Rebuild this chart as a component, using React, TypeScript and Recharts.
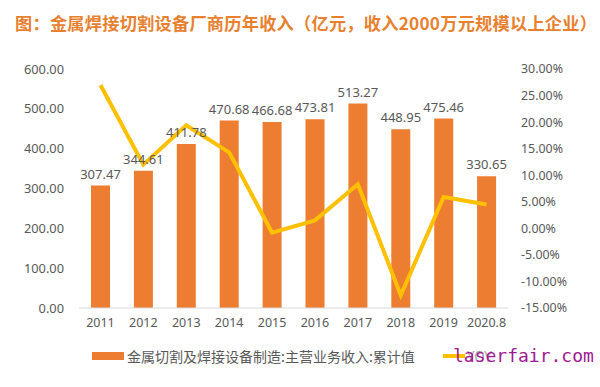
import React from 'react';
import { ComposedChart, Bar, Line, XAxis, YAxis, LabelList, Legend } from 'recharts';

const YEARS = ['2011', '2012', '2013', '2014', '2015', '2016', '2017', '2018', '2019', '2020.8'];
const REVENUE = [307.47, 344.61, 411.78, 470.68, 466.68, 473.81, 513.27, 448.95, 475.46, 330.65];
const YOY = [27.0, 12.0, 19.4, 14.3, -0.8, 1.5, 8.3, -12.6, 5.9, 4.5];

const LEFT_TICKS = [0, 100, 200, 300, 400, 500, 600];
const RIGHT_TICKS = [-15, -10, -5, 0, 5, 10, 15, 20, 25, 30];

const TITLE = '图：金属焊接切割设备厂商历年收入（亿元，收入2000万元规模以上企业）';
const BAR_NAME = '金属切割及焊接设备制造:主营业务收入:累计值';
const LINE_NAME = 'YOY';

const ORANGE = '#ED7D31';
const GOLD = '#FFC000';
const GREY = '#595959';
const FONT = '"Noto Sans", "Noto Sans CJK SC", sans-serif';

const data = YEARS.map((year, i) => ({ year, revenue: REVENUE[i], yoy: YOY[i] }));

const LegendContent = () => (
  <div style={{ position: 'relative', height: 22, fontFamily: '"Noto Sans CJK SC", sans-serif', fontSize: 14, color: GREY }}>
    <span style={{ position: 'absolute', left: 92, top: 7, width: 32, height: 8, background: ORANGE }} />
    <span style={{ position: 'absolute', left: 127, top: 0, lineHeight: '22px', whiteSpace: 'nowrap' }}>{BAR_NAME}</span>
    <span style={{ position: 'absolute', left: 443, top: 9, width: 22, height: 4, background: GOLD }} />
    <span style={{ position: 'absolute', left: 467, top: 0, lineHeight: '22px', color: '#A6A6A6' }}>{LINE_NAME}</span>
  </div>
);

export default function App() {
  return (
    <div style={{ position: 'fixed', left: 0, top: 0, width: 600, height: 387, background: '#fff', overflow: 'hidden' }}>
      <div
        style={{
          position: 'absolute',
          left: 15,
          top: 12,
          fontFamily: '"Noto Sans CJK SC", sans-serif',
          fontWeight: 700,
          fontSize: 17.2,
          letterSpacing: 0.25,
          lineHeight: '22px',
          color: '#E8812F',
          whiteSpace: 'nowrap',
        }}
      >
        {TITLE}
      </div>
      <ComposedChart width={600} height={387} data={data} margin={{ top: 69, right: 0, bottom: 49, left: 0 }}>
        <XAxis
          dataKey="year"
          height={30}
          axisLine={{ stroke: '#D9D9D9' }}
          tickLine={false}
          tickMargin={4}
          tick={{ fill: GREY, fontSize: 12.5, fontFamily: FONT }}
        />
        <YAxis
          yAxisId="left"
          width={79}
          domain={[0, 600]}
          ticks={LEFT_TICKS}
          axisLine={false}
          tickLine={false}
          tickMargin={9}
          tickFormatter={(v: number) => v.toFixed(2)}
          tick={{ fill: GREY, fontSize: 12.8, fontFamily: FONT }}
        />
        <YAxis
          yAxisId="right"
          orientation="right"
          width={92}
          domain={[-15, 30]}
          ticks={RIGHT_TICKS}
          axisLine={false}
          tickLine={false}
          tickMargin={7}
          tickFormatter={(v: number) => `${v.toFixed(2)}%`}
          tick={{ fill: GREY, fontSize: 12.4, fontFamily: FONT }}
        />
        <Legend verticalAlign="middle" align="center" wrapperStyle={{ top: 345, left: 0, width: 600 }} content={<LegendContent />} />
        <Bar yAxisId="left" dataKey="revenue" name={BAR_NAME} fill={ORANGE} barSize={19} isAnimationActive={false}>
          <LabelList
            dataKey="revenue"
            position="top"
            offset={7}
            formatter={(v: number) => v.toFixed(2)}
            style={{ fill: GREY, fontSize: 13, fontFamily: FONT }}
          />
        </Bar>
        <Line
          yAxisId="right"
          dataKey="yoy"
          name={LINE_NAME}
          type="linear"
          stroke={GOLD}
          strokeWidth={4}
          dot={false}
          activeDot={false}
          isAnimationActive={false}
        />
      </ComposedChart>
      <div
        style={{
          position: 'absolute',
          left: 453,
          top: 344,
          fontFamily: '"DejaVu Sans Mono", monospace',
          fontSize: 18,
          lineHeight: '24px',
          color: '#9E1A8F',
          whiteSpace: 'nowrap',
        }}
      >
        laserfair.com
      </div>
    </div>
  );
}
